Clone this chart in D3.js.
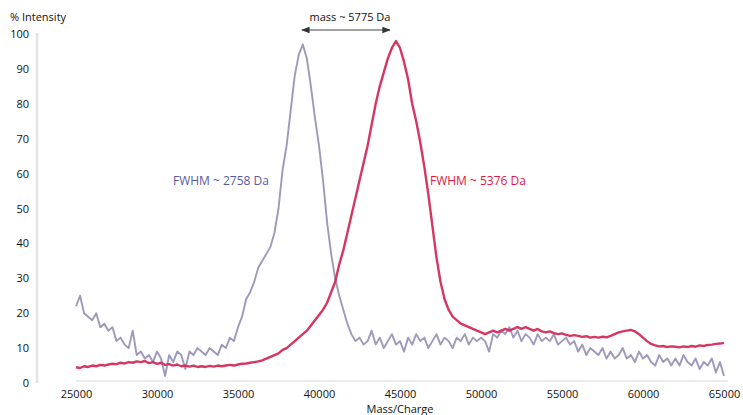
<!DOCTYPE html>
<html><head><meta charset="utf-8">
<script src="https://cdn.jsdelivr.net/npm/d3@7"></script>
<style>
body{margin:0;background:#fff;}
text{font-family:"Open Sans","Noto Sans",sans-serif;}
</style></head>
<body><svg id="c" width="743" height="415"></svg>
<script>
// ---- data ----
const massStart = 25000, massStep = 250;
const xTicks = [25000,30000,35000,40000,45000,50000,55000,60000,65000];
const yTicks = [0,10,20,30,40,50,60,70,80,90,100];
const graySeries = [
22,25,20,19, 18,20,16,17, 15,16,12,13, 11,10,15,8, 9,7,8,6,
9,7,2,8, 6,9,8,4, 9,8,10,9, 8,10,9,8, 11,10,13,12,
16,19,24,26, 29,33,35,37, 39,43,50,61, 68,78,88,94, 97,93,85,76,
68,58,46,37, 30,25,21,17, 14,12,13,11, 12,15,11,13, 10,12,14,11,
12,9,13,11, 14,12,13,10, 12,14,11,13, 12,10,13,12, 14,11,13,12,
13,12,9,14, 13,15,14,16, 13,15,12,14, 13,11,14,12, 13,12,14,11,
12,13,11,12, 9,11,8,10, 9,8,10,7, 9,7,8,10, 7,8,6,9,
7,8,6,5, 8,6,7,5, 7,5,8,6, 5,7,4,6, 5,7,3,6, 2
];
const redSeries = [
4.5,4.3,4.8,4.6, 5,4.8,5.2,5, 5.3,5.5,5.4,5.8, 5.6,6,5.8,6.2, 6,6.3,5.7,6,
5.5,5.8,5.2,5.4, 5,5.3,4.8,5, 4.7,5,4.6,4.8, 4.6,4.9,4.7,5, 4.8,5,5.2,5,
5.3,5.5,5.6,5.8, 6,6.2,6.5,7, 7.5,8,8.5,9.5, 10,11,12,13, 14,15,16.5,18,
19.5,21,23,26, 29,34,38,43, 48,53,58,63, 68,74,80,85, 89,93,96,98,
96,92,87,80, 75,69,62,54, 45,36,29,24, 21,19,18,17, 16.5,16,15.5,15,
14.5,14,14.5,15, 14.5,15,15.5,15, 15.5,16,15.5,16, 15.5,15,15.5,14.8, 14.5,14.8,14.3,14,
14.2,13.8,13.5,13.7, 13.5,13.2,13.4,13, 13.2,13,13.3,13.1, 13.5,14,14.5,14.8, 15,15.2,14.8,14,
13,12,11.2,10.8, 10.5,10.6,10.3,10.5, 10.4,10.2,10.5,10.3, 10.6,10.4,10.8,10.6, 10.9,11,11.2,11.3, 11.5
];
const massArrow = [38950, 44380];
const labels = {
  yTitle: "% Intensity", xTitle: "Mass/Charge",
  mass: "mass ~ 5775 Da", fwhmGray: "FWHM ~ 2758 Da", fwhmRed: "FWHM ~ 5376 Da"
};

// ---- chart ----
const svg = d3.select("#c");
const x = d3.scaleLinear().domain([25000,65000]).range([76,724]);
const y = d3.scaleLinear().domain([0,100]).range([383,34]);

// axes
const yAx = svg.append("g").attr("transform","translate(37,0)")
  .call(d3.axisLeft(y).tickValues(yTicks).tickSize(0).tickPadding(8));
yAx.select(".domain").attr("stroke","#e4e4e4").attr("stroke-width",2.5).attr("d","M0,33V383");
yAx.selectAll("text").attr("font-size",11).attr("fill","#111");

const xAx = svg.append("g").attr("transform","translate(0,381)")
  .call(d3.axisBottom(x).tickValues(xTicks).tickFormat(d3.format("d")).tickSize(0).tickPadding(9));
xAx.select(".domain").attr("stroke","#e6e6e6").attr("stroke-width",1.5).attr("d","M76,0H728");
xAx.selectAll("text").attr("font-size",11).attr("fill","#111");

svg.append("text").attr("x",10).attr("y",21).attr("font-size",11).attr("fill","#111").text(labels.yTitle);
svg.append("text").attr("x",400).attr("y",413).attr("text-anchor","middle").attr("font-size",11).attr("fill","#111").text(labels.xTitle);

// lines
const line = d3.line().x((d,i)=>x(massStart+i*massStep)).y(d=>y(d));
svg.append("path").datum(graySeries).attr("d",line).attr("fill","none")
  .attr("stroke","#9d99bd").attr("stroke-width",1.9).attr("stroke-linejoin","round");
svg.append("path").datum(redSeries).attr("d",line).attr("fill","none")
  .attr("stroke","#d42c58").attr("stroke-width",2.4).attr("stroke-linejoin","round").attr("opacity",0.95);

// annotation arrow
const defs = svg.append("defs");
defs.append("marker").attr("id","ah").attr("viewBox","0 0 10 10").attr("refX",9).attr("refY",5)
  .attr("markerWidth",7).attr("markerHeight",7).attr("orient","auto-start-reverse")
  .append("path").attr("d","M0,1L10,5L0,9Z").attr("fill","#333");
svg.append("line").attr("x1",x(massArrow[0])).attr("x2",x(massArrow[1])).attr("y1",30).attr("y2",30)
  .attr("stroke","#444").attr("stroke-width",1.2)
  .attr("marker-start","url(#ah)").attr("marker-end","url(#ah)");
svg.append("text").attr("x",(x(massArrow[0])+x(massArrow[1]))/2+4).attr("y",21).attr("text-anchor","middle")
  .attr("font-size",11).attr("fill","#111").text(labels.mass);

svg.append("text").attr("x",173).attr("y",185).attr("font-size",12).attr("fill","#5a5a9e").text(labels.fwhmGray);
svg.append("text").attr("x",430).attr("y",185).attr("font-size",12).attr("fill","#e0153f").text(labels.fwhmRed);
</script></body></html>
